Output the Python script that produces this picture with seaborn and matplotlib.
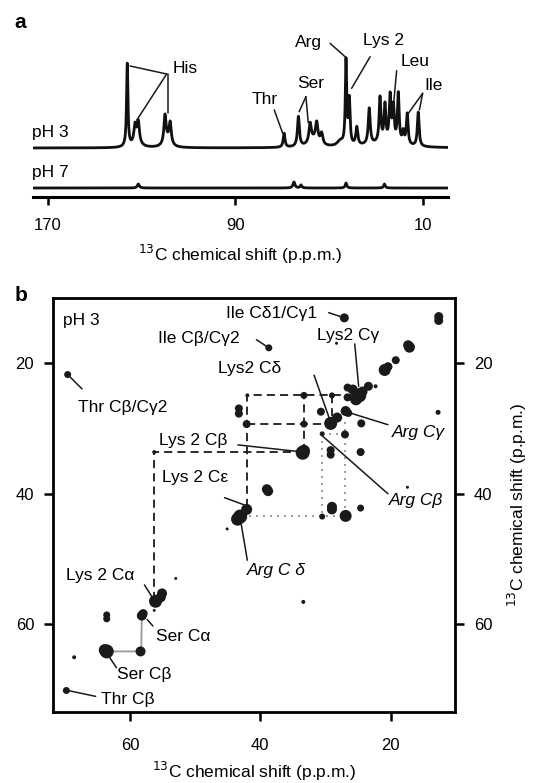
import numpy as np
import pandas as pd
import matplotlib
matplotlib.use('Agg')
import matplotlib.pyplot as plt
import seaborn as sns

sns.set_theme(style='ticks')
plt.rcParams['font.family'] = ['Liberation Sans', 'DejaVu Sans']
plt.rcParams.update({'text.color': 'black', 'axes.labelcolor': 'black', 'xtick.color': 'black',
                     'ytick.color': 'black', 'axes.edgecolor': 'black'})

# ---------------- panel a: 1D 13C spectra (peak list) ----------------
# ppm position, height (arbitrary units ~ pixels), half width (ppm)
ph3_ppm = [136.1, 132.8, 131.4, 132.0, 120.0, 117.8, 119.0, 69.2, 63.1, 58.1, 55.3, 53.2,
           56.5, 45.3, 42.8, 41.4, 38.2, 32.9, 28.3, 26.2, 24.0, 22.6, 20.5, 18.4, 16.7, 12.0, 27.0]
ph3_height = [83, 17, 20, 6, 28, 21, 6, 14, 30, 19, 19, 11,
              7, 5, 84, 45, 18, 36, 45, 37, 46, 35, 50, 12, 31, 34, 4]
ph3_width = [0.35, 0.55, 0.55, 1.8, 0.55, 0.55, 1.8, 0.45, 0.5, 0.6, 0.6, 0.6,
             2.5, 1.5, 0.35, 0.4, 0.5, 0.5, 0.45, 0.45, 0.45, 0.45, 0.45, 0.45, 0.45, 0.45, 9.0]
ph7_ppm = [131.4, 65.0, 62.0, 42.8, 26.4]
ph7_height = [4, 6, 3, 5, 4]
ph7_width = [0.5, 0.5, 0.4, 0.4, 0.4]
offset_ph3 = 40

a_labels = ['His', 'Thr', 'Ser', 'Arg', 'Lys 2', 'Leu', 'Ile']
a_label_xy = [(111.2, 119.7), (77.3, 88), (57.8, 104), (59.0, 145.3), (26.9, 147.3), (13.5, 127), (5.4, 103)]
a_leaders = [
    [(134.9, 122), (119.3, 114)], [(132.0, 68), (119.3, 114)], [(118.8, 74.7), (118.8, 114)],
    [(73.4, 78), (69.8, 54.7)],
    [(59.9, 91.3), (62.8, 76.3)], [(59.9, 91.3), (58.9, 65.3)],
    [(49.6, 144.7), (43.2, 131.3)],
    [(32.5, 131.3), (40.4, 99.7)],
    [(21.2, 117.3), (22.6, 81.3)],
    [(10.1, 94.7), (16.2, 74.7)], [(10.1, 94.7), (11.5, 78)],
]

# ---------------- panel b: 2D 13C-13C correlation peaks (ppm, ppm, blob diameter px) ----------------
pk_x = [69.6, 38.7, 27.1, 12.6, 12.6, 28.3, 17.1, 17.3, 19.2, 20.9, 20.4, 22.3, 23.4, 24.8, 25.3, 24.3,
        25.8, 26.6, 26.6, 29.0, 33.3, 42.0, 43.3, 43.3, 42.1, 30.7, 26.9, 26.5, 28.2, 29.2, 33.3, 24.5, 30.5,
        27.0, 29.2, 29.2, 24.6, 33.5, 33.3, 12.7, 17.4, 39.0, 38.8, 56.3, 42.1, 43.1, 43.5, 45.1,
        29.0, 29.0, 24.6, 26.9, 30.5, 56.1, 55.3, 55.1, 56.3, 53.0, 58.2, 58.0, 63.6, 63.6, 63.6, 63.9,
        58.4, 68.6, 69.8, 33.4]
pk_y = [21.7, 17.6, 13.0, 12.8, 13.4, 16.9, 17.5, 17.2, 19.5, 21.0, 20.5, 23.5, 23.5, 24.9, 25.5, 24.3,
        24.0, 23.7, 25.2, 24.9, 24.9, 24.9, 26.9, 27.7, 29.3, 27.4, 27.3, 27.6, 28.3, 29.2, 29.3, 29.2, 30.8,
        30.9, 33.3, 34.0, 33.6, 33.7, 33.4, 27.5, 39.0, 39.3, 39.6, 33.6, 42.4, 43.5, 43.9, 45.4,
        42.0, 42.4, 42.2, 43.4, 43.5, 56.5, 55.9, 55.3, 57.9, 53.0, 58.7, 58.4, 58.6, 59.2, 64.2, 64.0,
        64.2, 65.1, 70.2, 56.6]
pk_d = [7, 7, 9, 9, 9, 3, 11, 10, 8, 12, 9, 4, 9, 14, 12, 10,
        10, 8, 8, 6, 7, 4, 8, 8, 8, 8, 10, 8, 10, 13, 7, 8, 5,
        8, 8, 8, 8, 14, 12, 5, 3, 10, 10, 4, 11, 14, 13, 3,
        10, 10, 7, 12, 6, 13, 10, 10, 3, 3, 10, 9, 7, 7, 14, 12,
        10, 4, 7, 4]

# Lys 2 connectivity (black dashed), Arg (grey dotted), Ser (grey solid)
lys_paths = [
    [(56.3, 56.3), (56.3, 33.6), (33.5, 33.6)],
    [(33.3, 33.6), (33.3, 24.9)],
    [(42.0, 42.0), (42.0, 24.9), (25.0, 24.9)],
    [(42.0, 29.3), (29.2, 29.3)],
    [(29.0, 24.9), (29.0, 29.3)],
]
arg_paths = [
    [(41.8, 43.4), (27.0, 43.4)],
    [(30.5, 30.8), (30.5, 43.4)],
    [(27.0, 29.0), (27.0, 43.4)],
    [(30.5, 30.8), (27.0, 30.8)],
]
ser_path = [(58.2, 58.7), (58.3, 64.2), (63.6, 64.2)]

b_labels = ['Ile C\u03b41/C\u03b31', 'Ile C\u03b2/C\u03b32', 'Lys2 C\u03b3', 'Lys2 C\u03b4', 'Thr C\u03b2/C\u03b32',
            'Lys 2 C\u03b2', 'Lys 2 C\u03b5', 'Lys 2 C\u03b1', 'Ser C\u03b1', 'Ser C\u03b2', 'Thr C\u03b2']
b_label_xy = [(38.3, 12.3), (49.4, 16.2), (26.5, 15.7), (41.6, 20.7), (61.2, 26.7),
              (50.3, 31.8), (50.1, 37.5), (64.6, 52.6), (51.8, 61.85), (57.8, 67.7), (60.3, 71.6)]
b_leaders = [
    [(29.5, 12.2), (27.1, 13.0)], [(40.6, 16.35), (38.7, 17.6)], [(25.5, 17.0), (24.9, 23.5)],
    [(31.75, 21.8), (29.2, 29.0)], [(67.4, 23.9), (69.6, 21.7)], [(43.45, 32.5), (34.3, 33.5)],
    [(45.5, 40.6), (42.5, 41.7)], [(57.8, 54.0), (56.5, 56.05)], [(57.4, 59.3), (56.5, 60.3)],
    [(63.5, 64.6), (62.1, 66.7)], [(69.8, 70.15), (65.3, 71.1)],
]
arg_labels = ['Arg C\u03b3', 'Arg C\u03b2', 'Arg C \u03b4']
arg_label_xy = [(15.75, 30.6), (16.1, 41.1), (37.6, 51.8)]
arg_leaders = [[(26.2, 27.6), (20.4, 29.4)], [(30.5, 31.1), (20.4, 40.0)], [(43.1, 43.7), (42.0, 50.2)]]

# ---------------------------------------------------------------------------------
W, H = 536, 783
fig = plt.figure(figsize=(W / 100, H / 100), dpi=100)
fs = 12.5

# panel a
ax1 = fig.add_axes([33 / W, 1 - 197 / H, 415 / W, 167 / H])
ppm = np.linspace(176.5, -1.0, 4000)


def spectrum(pos, hgt, wid):
    s = np.zeros_like(ppm)
    for p, h, g in zip(pos, hgt, wid):
        s += h * g ** 2 / ((ppm - p) ** 2 + g ** 2)
    return s


df_a = pd.DataFrame({
    'ppm': np.concatenate([ppm, ppm]),
    'intensity': np.concatenate([spectrum(ph3_ppm, ph3_height, ph3_width) + offset_ph3,
                                 spectrum(ph7_ppm, ph7_height, ph7_width)]),
    'sample': ['pH 3'] * len(ppm) + ['pH 7'] * len(ppm),
})
sns.lineplot(data=df_a, x='ppm', y='intensity', units='sample', estimator=None, sort=False,
             color='#111111', lw=2.0, ax=ax1)
ax1.set_xlim(176.3, -0.7)
ax1.set_ylim(-9, 158)
for side in ['left', 'right', 'top']:
    ax1.spines[side].set_visible(False)
ax1.spines['bottom'].set_linewidth(2.2)
ax1.set_yticks([])
ax1.set_xticks([170, 90, 10])
ax1.tick_params(axis='x', direction='out', length=6, width=1.8, pad=9, labelsize=12)
ax1.set_xlabel('$^{13}$C chemical shift (p.p.m.)', fontsize=12.5, labelpad=7)
ax1.set_ylabel('')
ax1.text(176.6, offset_ph3 + 15, 'pH 3', fontsize=fs, ha='left', va='center')
ax1.text(176.6, 15.3, 'pH 7', fontsize=fs, ha='left', va='center')
for lab, (x, y) in zip(a_labels, a_label_xy):
    ax1.text(x, y, lab, fontsize=fs, ha='center', va='center')
for seg in a_leaders:
    xs, ys = zip(*seg)
    ax1.plot(xs, ys, color='k', lw=1.1)

# panel b
ax2 = fig.add_axes([53 / W, 1 - 712 / H, 402 / W, 414 / H])
for path in lys_paths:
    xs, ys = zip(*path)
    ax2.plot(xs, ys, color='k', lw=1.3, dashes=(4.5, 2.8), zorder=1)
for path in arg_paths:
    xs, ys = zip(*path)
    ax2.plot(xs, ys, color='#9a9a9a', lw=1.4, dashes=(1.0, 2.6), zorder=1)
xs, ys = zip(*ser_path)
ax2.plot(xs, ys, color='#9a9a9a', lw=1.3, zorder=1)

df_b = pd.DataFrame({'x': pk_x, 'y': pk_y, 'area': [(0.72 * d) ** 2 for d in pk_d]})
amin, amax = df_b['area'].min(), df_b['area'].max()
sns.scatterplot(data=df_b, x='x', y='y', size='area', sizes=(amin, amax), size_norm=(amin, amax),
                color='k', linewidth=0, legend=False, ax=ax2, zorder=3)

ax2.set_xlim(71.85, 10.1)
ax2.set_ylim(73.5, 9.95)
for sp in ax2.spines.values():
    sp.set_linewidth(2.0)
ax2.set_xticks([60, 40, 20])
ax2.set_yticks([20, 40, 60])
ax2.tick_params(axis='x', direction='out', length=6.5, width=1.8, pad=12, labelsize=12)
ax2.tick_params(axis='y', direction='out', length=6.5, width=1.8, pad=7, labelsize=12,
                left=True, right=True, labelleft=True, labelright=True)
ax2.set_xlabel('$^{13}$C chemical shift (p.p.m.)', fontsize=12.5, labelpad=5)
ax2.yaxis.set_label_position('right')
ax2.set_ylabel('$^{13}$C chemical shift (p.p.m.)', fontsize=12.5, labelpad=10)

ax2.text(70.3, 13.4, 'pH 3', fontsize=fs, ha='left', va='center')
for lab, (x, y) in zip(b_labels, b_label_xy):
    ax2.text(x, y, lab, fontsize=fs, ha='center', va='center')
for lab, (x, y) in zip(arg_labels, arg_label_xy):
    ax2.text(x, y, lab, fontsize=fs, ha='center', va='center', style='italic')
for seg in b_leaders + arg_leaders:
    xs, ys = zip(*seg)
    ax2.plot(xs, ys, color='k', lw=1.1, zorder=2)

fig.text(20 / W, 1 - 23 / H, 'a', fontsize=15, fontweight='bold', ha='center', va='center')
fig.text(21 / W, 1 - 296 / H, 'b', fontsize=15, fontweight='bold', ha='center', va='center')

fig.savefig('out.png', dpi=100)
